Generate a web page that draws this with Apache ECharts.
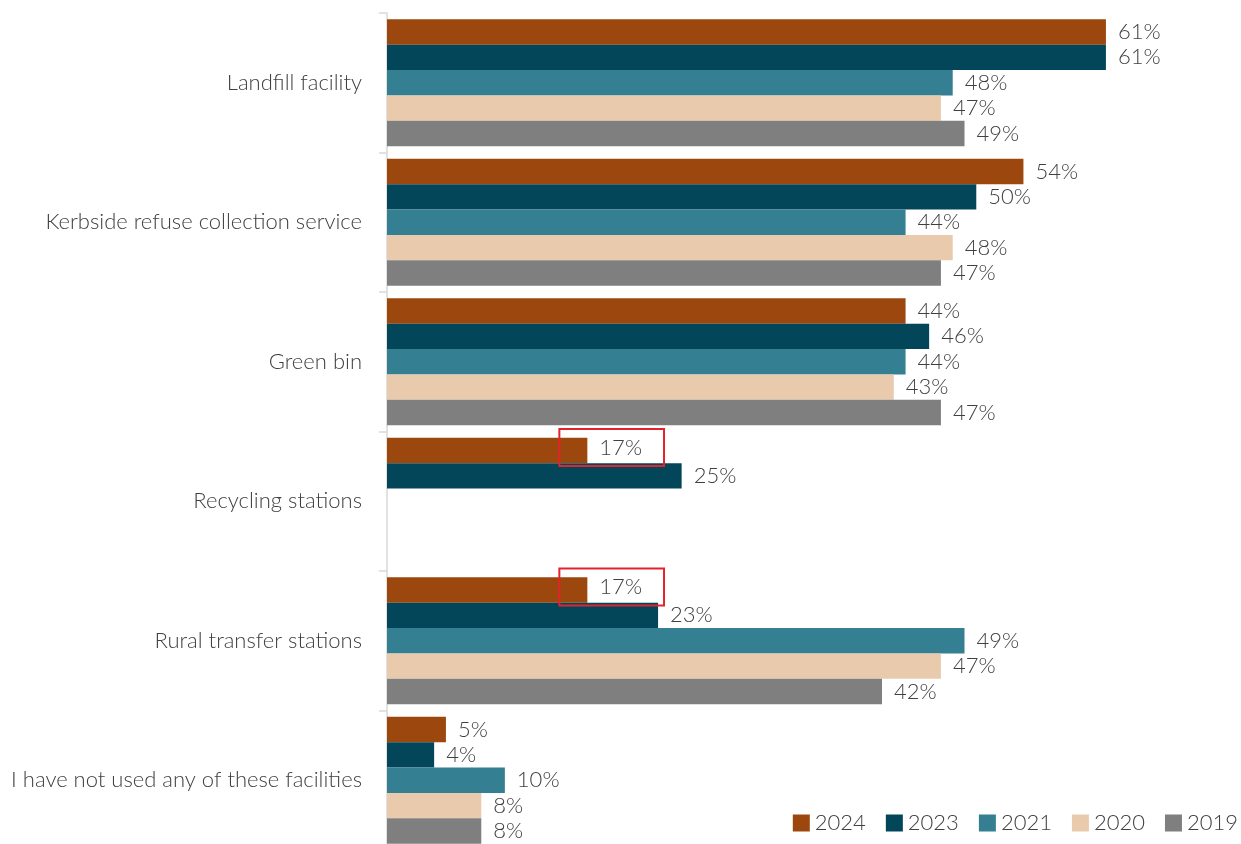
<!DOCTYPE html>
<html>
<head>
<meta charset="utf-8">
<script src="https://cdn.jsdelivr.net/npm/echarts@6/dist/echarts.min.js"></script>
<style>
  html, body { margin: 0; padding: 0; background: #fff; }
  #chart { width: 1241px; height: 844px; }
</style>
</head>
<body>
<div id="chart"></div>
<script>
// Facilities used, by survey year (% of respondents)
const categories = [
  'Landfill facility',
  'Kerbside refuse collection service',
  'Green bin',
  'Recycling stations',
  'Rural transfer stations',
  'I have not used any of these facilities'
];
const years = ['2024', '2023', '2021', '2020', '2019'];
const values2024 = [61, 54, 44, 17, 17, 5];
const values2023 = [61, 50, 46, 25, 23, 4];
const values2021 = [48, 44, 44, null, 49, 10];
const values2020 = [47, 48, 43, null, 47, 8];
const values2019 = [49, 47, 47, null, 42, 8];
// 2024 results flagged with a red outline
const highlighted2024 = [3, 4];

const colors = ['#9C470E', '#03465A', '#347F91', '#EACAAD', '#7F7F7F'];
const seriesValues = [values2024, values2023, values2021, values2020, values2019];

const FONT = 'Lato, "Source Sans Pro", "Open Sans", sans-serif';
const TEXT = '#404040';
const FS = 22;

const chart = echarts.init(document.getElementById('chart'), null, { renderer: 'canvas' });

const series = years.map((y, si) => ({
  name: y,
  type: 'bar',
  barCategoryGap: '9%',
  barGap: '0%',
  itemStyle: { color: colors[si] },
  label: {
    show: true,
    position: 'right',
    distance: 12,
    color: TEXT,
    fontFamily: FONT,
    fontWeight: 300,
    fontSize: FS,
    formatter: p => (p.value == null ? '' : p.value + '%')
  },
  data: seriesValues[si].map((v, ci) => {
    if (si === 0 && highlighted2024.includes(ci)) {
      return {
        value: v,
        label: {
          borderColor: '#E4222C',
          borderWidth: 2,
          padding: [10, 22, 5, 40],
          offset: [-40, -3]
        }
      };
    }
    return v;
  })
}));

chart.setOption({
  backgroundColor: '#ffffff',
  animation: false,
  textStyle: { fontFamily: FONT },
  grid: { left: 387, top: 13, width: 825, height: 837, outerBoundsMode: 'none', containLabel: false },
  legend: {
    data: years,
    right: -2,
    bottom: 5,
    itemWidth: 17,
    itemHeight: 17,
    itemGap: 20,
    icon: 'rect',
    textStyle: { color: TEXT, fontFamily: FONT, fontWeight: 300, fontSize: FS, padding: [0, 0, 0, 0] }
  },
  xAxis: {
    type: 'value',
    min: 0,
    max: 70,
    show: false,
    splitLine: { show: false }
  },
  yAxis: {
    type: 'category',
    inverse: true,
    data: categories,
    axisLine: { show: true, lineStyle: { color: '#D9D9D9', width: 1.5 } },
    axisTick: { show: true, length: 8, lineStyle: { color: '#D9D9D9', width: 1.5 } },
    axisLabel: {
      color: TEXT,
      fontFamily: FONT,
      fontWeight: 300,
      fontSize: FS,
      margin: 25
    }
  },
  series: series
});
</script>
</body>
</html>
